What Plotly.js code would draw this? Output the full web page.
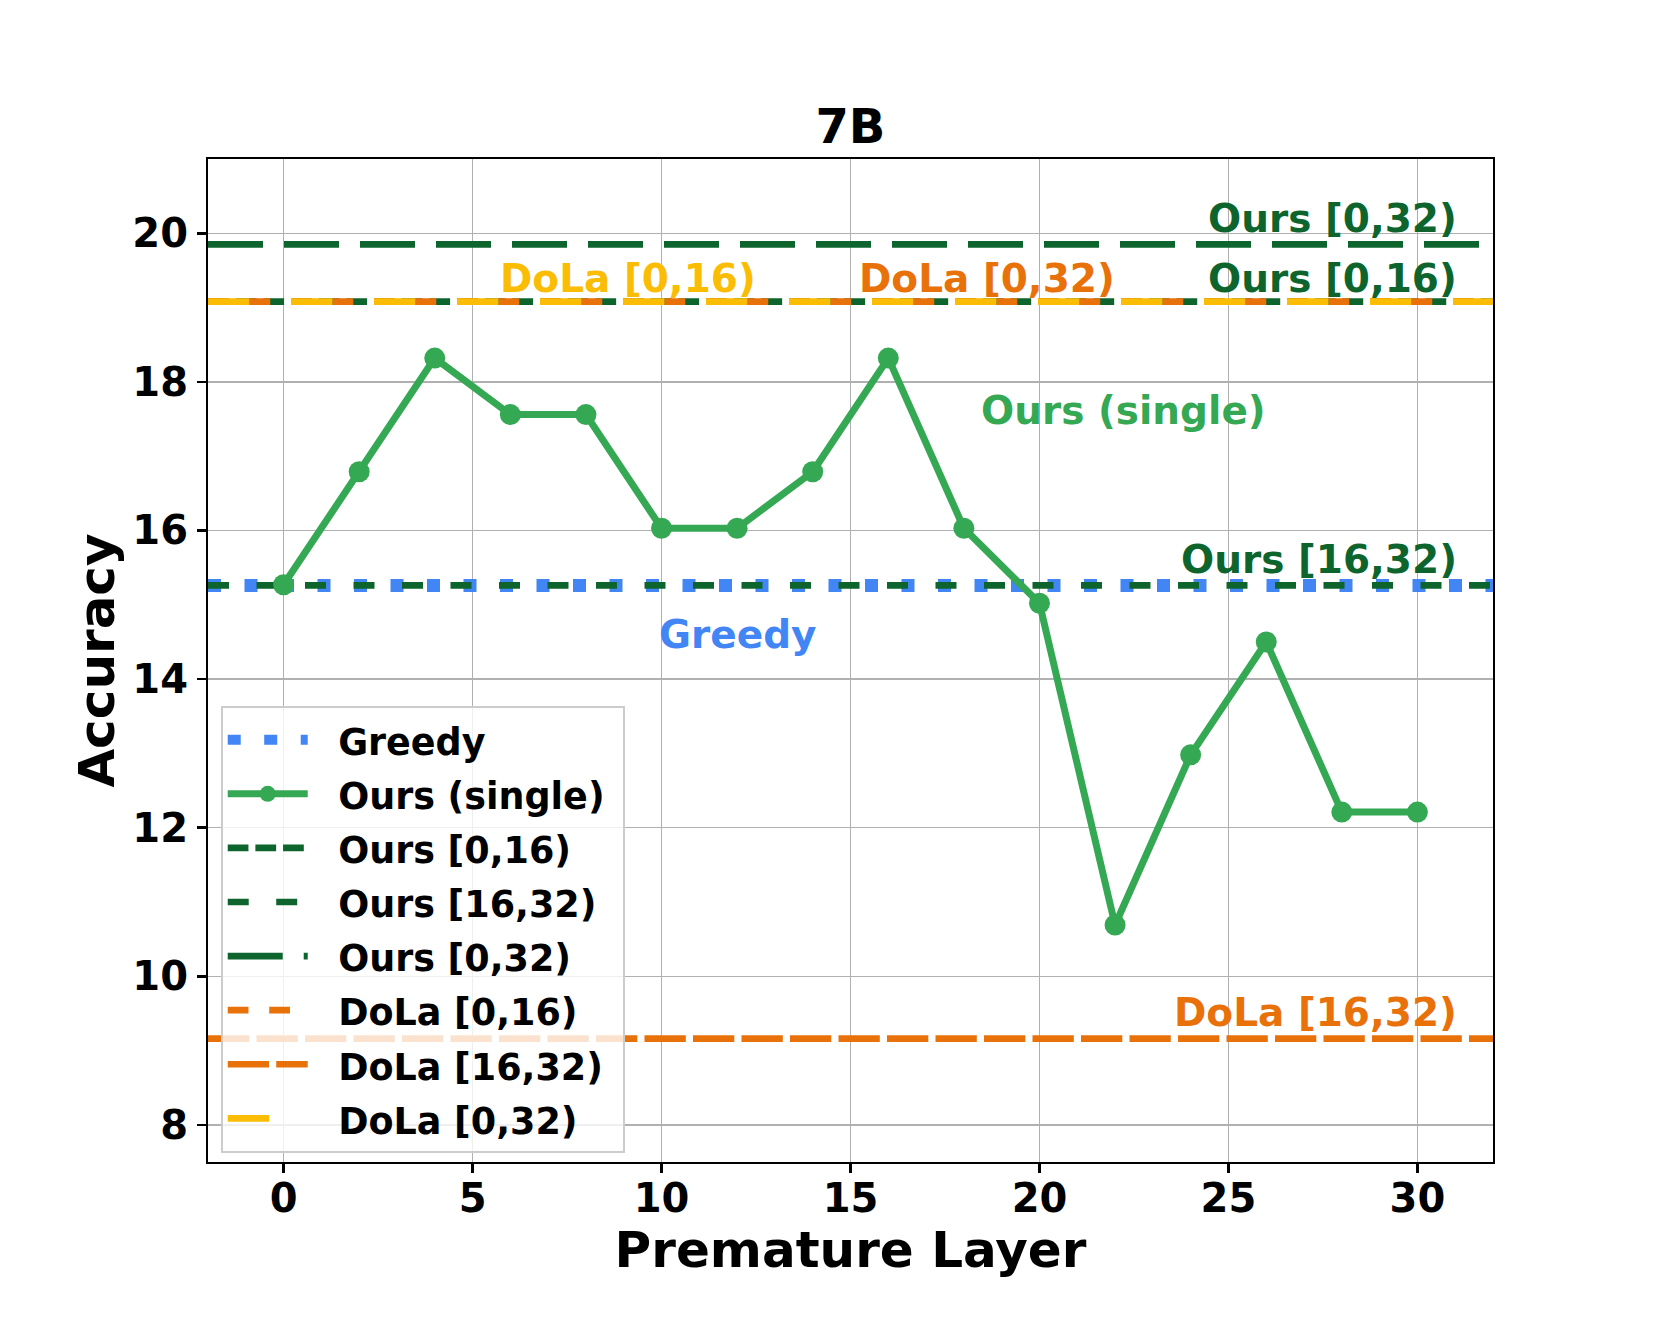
<!DOCTYPE html>
<html>
<head>
<meta charset="utf-8">
<script src="https://cdn.plot.ly/plotly-3.0.1.min.js"></script>
<style>html,body{margin:0;padding:0;background:#fff;}#chart{width:1661px;height:1329px;}</style>
</head>
<body>
<div id="chart"></div>
<script>
// ---- data ----
const layers = [0, 2, 4, 6, 8, 10, 12, 14, 16, 18, 20, 22, 24, 26, 28, 30];
const oursSingle = [15.27, 16.79, 18.32, 17.56, 17.56, 16.03, 16.03, 16.79, 18.32, 16.03, 15.02, 10.69, 12.98, 14.50, 12.21, 12.21];
const greedy = 15.26;
const ours_0_16 = 19.08;
const ours_16_32 = 15.26;
const ours_0_32 = 19.85;
const dola_0_16 = 19.08;
const dola_16_32 = 9.16;
const dola_0_32 = 19.08;
const xRange = [-2, 32];
const yRange = [7.5, 21];
const xTicks = [0, 5, 10, 15, 20, 25, 30];
const yTicks = [8, 10, 12, 14, 16, 18, 20];

// ---- styles ----
const C_BLUE = '#4285F4', C_GREEN = '#34A853', C_DGREEN = '#0D652D', C_ORANGE = '#E8710A', C_YELLOW = '#FBBC04';
const FONT = 'DejaVu Sans, Liberation Sans, sans-serif';

function legName(s) {
  return '<span style="font-size:36.5px">\u00A0\u00A0' + s + '\u00A0</span>';
}

function hline(name, val, color, width, dash, rank) {
  return {
    x: xRange, y: [val, val], mode: 'lines', name: legName(name), legendrank: rank,
    line: {color: color, width: width, dash: dash}, hoverinfo: 'skip'
  };
}

const traces = [
  hline('Greedy', greedy, C_BLUE, 13, '13px,23.5px', 1),
  hline('Ours [0,16)', ours_0_16, C_DGREEN, 6.7, '20.75px,6.92px', 3),
  hline('Ours [16,32)', ours_16_32, C_DGREEN, 6.7, '21px,27.5px', 4),
  hline('Ours [0,32)', ours_0_32, C_DGREEN, 6.7, '55px,21px', 5),
  hline('DoLa [0,16)', dola_0_16, C_ORANGE, 6.7, '20.75px,20.75px', 6),
  hline('DoLa [16,32)', dola_16_32, C_ORANGE, 6.7, '41.3px,7.2px', 7),
  hline('DoLa [0,32)', dola_0_32, C_YELLOW, 6.7, '41.5px,41.5px', 8),
  {
    x: layers, y: oursSingle, mode: 'lines+markers', name: legName('Ours (single)'), legendrank: 2,
    line: {color: C_GREEN, width: 7}, marker: {color: C_GREEN, size: 21}
  }
];

function ann(text, x, y, color, yshift) {
  return {text: text, x: x, y: y, xref: 'x', yref: 'y', xanchor: 'right', yanchor: 'middle',
    xshift: 4, yshift: yshift, showarrow: false, font: {family: FONT, size: 39, weight: 'bold', color: color}};
}

const annotations = [
  ann('Ours [0,32)', 31.0, 20.20, C_DGREEN, 0),
  ann('Ours [0,16)', 31.0, 19.41, C_DGREEN, -1),
  ann('DoLa [0,32)', 21.95, 19.41, C_ORANGE, -1),
  ann('DoLa [0,16)', 12.44, 19.41, C_YELLOW, -1),
  ann('Ours (single)', 25.93, 17.64, C_GREEN, -2),
  ann('Ours [16,32)', 31.0, 15.635, C_DGREEN, -2),
  ann('Greedy', 14.06, 14.65, C_BLUE, -4),
  ann('DoLa [16,32)', 31.0, 9.54, C_ORANGE, -2)
];

const axisCommon = {
  showline: true, mirror: true, linecolor: '#000', linewidth: 2,
  ticks: 'outside', ticklen: 9, tickwidth: 2.5, tickcolor: '#000',
  showgrid: true, gridcolor: '#b0b0b0', gridwidth: 1.5, zeroline: false,
  tickfont: {family: FONT, size: 40, weight: 'bold', color: '#000'}
};

const layout = {
  width: 1661, height: 1329,
  margin: {l: 208, r: 168, t: 159, b: 167},
  paper_bgcolor: '#fff', plot_bgcolor: '#fff',
  title: {text: '7B', x: 0.512, xanchor: 'center', y: 1 - 126.5/1329, yanchor: 'middle', yref: 'container',
    font: {family: FONT, size: 48, weight: 'bold', color: '#000'}},
  xaxis: Object.assign({}, axisCommon, {
    range: xRange, tickvals: xTicks, ticklabelstandoff: -9,
    title: {text: 'Premature Layer', standoff: 10, font: {family: FONT, size: 50, weight: 'bold', color: '#000'}}
  }),
  yaxis: Object.assign({}, axisCommon, {
    range: yRange, tickvals: yTicks, ticklabelstandoff: 1,
    title: {text: 'Accuracy', standoff: 2, font: {family: FONT, size: 50, weight: 'bold', color: '#000'}}
  }),
  showlegend: true,
  legend: {
    x: 0.0099, y: 0.0093, xanchor: 'left', yanchor: 'bottom',
    bgcolor: 'rgba(255,255,255,0.8)', bordercolor: '#cccccc', borderwidth: 2,
    font: {family: FONT, size: 39.3, weight: 'bold', color: '#000'},
    itemwidth: 80, tracegroupgap: 0
  },
  annotations: annotations
};

Plotly.newPlot('chart', traces, layout, {displayModeBar: false, staticPlot: true});
</script>
</body>
</html>
